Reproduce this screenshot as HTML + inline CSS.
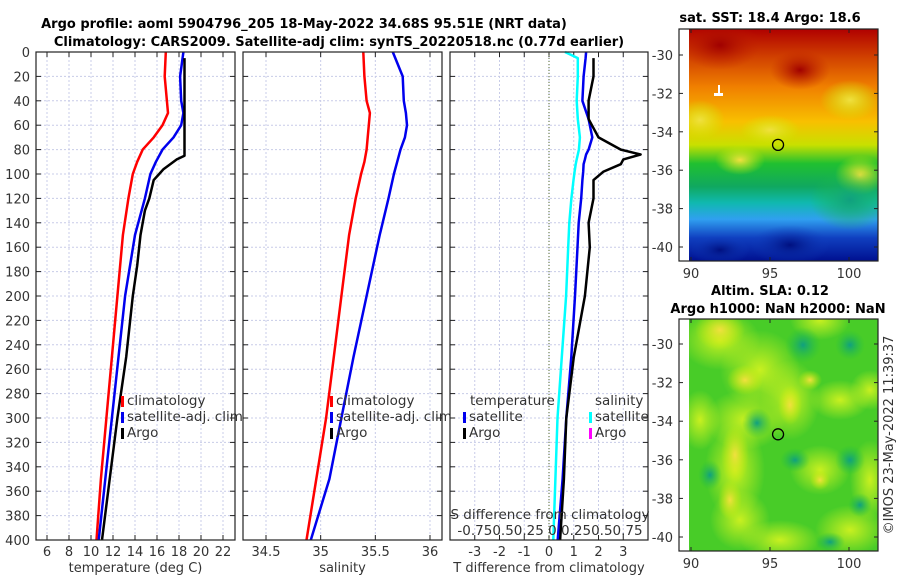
<!DOCTYPE html>
<html><head><meta charset="utf-8">
<style>
body{margin:0;background:#fff;}
svg{display:block;font-family:"DejaVu Sans","Liberation Sans",sans-serif;}
.tk{font-size:13px;fill:#333;}
.tt{font-size:13px;font-weight:bold;fill:#000;}
</style></head>
<body>
<svg id="c" width="900" height="580" viewBox="0 0 900 580" xmlns="http://www.w3.org/2000/svg">
<defs>
<linearGradient id="sstg" x1="0" y1="0" x2="0" y2="1">
<stop offset="0" stop-color="#b00000"/><stop offset="0.12" stop-color="#d04000"/>
<stop offset="0.25" stop-color="#f08000"/><stop offset="0.4" stop-color="#f8c000"/>
<stop offset="0.5" stop-color="#c8e000"/><stop offset="0.58" stop-color="#20c030"/>
<stop offset="0.68" stop-color="#10a860"/><stop offset="0.75" stop-color="#10b8b0"/>
<stop offset="0.82" stop-color="#30a0f0"/><stop offset="0.9" stop-color="#1040c0"/>
<stop offset="1" stop-color="#001090"/></linearGradient>
<radialGradient id="yb"><stop offset="0" stop-color="#f0e040"/><stop offset="1" stop-color="#c8f000" stop-opacity="0"/></radialGradient>
<radialGradient id="lb"><stop offset="0" stop-color="#c8f020"/><stop offset="1" stop-color="#c8f020" stop-opacity="0"/></radialGradient>
<radialGradient id="gb"><stop offset="0" stop-color="#10a080"/><stop offset="1" stop-color="#20c040" stop-opacity="0"/></radialGradient>
<radialGradient id="rb"><stop offset="0" stop-color="#a00000"/><stop offset="1" stop-color="#c02000" stop-opacity="0"/></radialGradient>
<radialGradient id="bb"><stop offset="0" stop-color="#001080"/><stop offset="1" stop-color="#1040c0" stop-opacity="0"/></radialGradient>
<clipPath id="m1c"><rect x="689" y="29" width="189" height="232"/></clipPath>
<clipPath id="m2c"><rect x="689" y="319" width="189" height="232"/></clipPath>
</defs>
<g id="root"></g>
<text class="tt" x="304" y="28" text-anchor="middle">Argo profile: aoml 5904796_205 18-May-2022 34.68S 95.51E (NRT data)</text>
<text class="tt" x="339" y="46" text-anchor="middle">Climatology: CARS2009. Satellite-adj clim: synTS_20220518.nc (0.77d earlier)</text>
<text class="tt" x="770" y="22" text-anchor="middle">sat. SST: 18.4 Argo: 18.6</text>
<text class="tt" x="770" y="295" text-anchor="middle">Altim. SLA: 0.12</text>
<text class="tt" x="778" y="313" text-anchor="middle">Argo h1000: NaN h2000: NaN</text>
<text class="tk" transform="translate(893,435) rotate(-90)" text-anchor="middle">©IMOS 23-May-2022 11:39:37</text>
</svg>
<script>
// ---- data ----
const depthRed=[0,20,40,50,60,70,80,90,100,120,150,200,250,300,350,400];
const tClim=[16.8,16.7,16.9,17.0,16.5,15.7,14.7,14.2,13.8,13.4,12.9,12.4,11.9,11.4,10.9,10.5];
const tSat=[18.4,18.1,18.2,18.4,18.2,17.5,16.5,15.9,15.4,14.9,14.0,13.1,12.5,11.9,11.3,10.7];
const depthArgo=[5,20,40,60,85,88,92,96,100,105,120,130,150,175,200,250,300,350,400];
const tArgo=[18.5,18.5,18.5,18.5,18.5,17.8,17.2,16.6,16.2,15.7,15.3,14.9,14.5,14.2,13.8,13.2,12.4,11.7,11.0];
const sClim=[35.39,35.40,35.42,35.45,35.44,35.43,35.42,35.40,35.37,35.32,35.26,35.19,35.12,35.05,34.96,34.87];
const sSat=[35.66,35.75,35.76,35.78,35.79,35.77,35.73,35.70,35.67,35.62,35.54,35.42,35.30,35.19,35.08,34.91];
const dDepth=[0,5,20,40,55,70,80,84,88,92,98,105,120,140,160,200,250,300,350,400];
const dTsat=[1.5,1.48,1.4,1.35,1.6,1.75,1.6,1.5,1.45,1.4,1.38,1.35,1.3,1.2,1.15,1.05,0.9,0.7,0.55,0.35];
const dTargo=[null,1.8,1.8,1.6,1.6,2.0,2.9,3.7,3.0,2.9,2.2,1.8,1.8,1.6,1.65,1.45,1.0,0.7,0.6,0.45];
const dSsat=[0.15,0.27,0.27,0.26,0.27,0.29,0.28,0.27,0.26,0.25,0.24,0.23,0.21,0.19,0.18,0.16,0.12,0.08,0.06,0.04];
const depthTicks=[0,20,40,60,80,100,120,140,160,180,200,220,240,260,280,300,320,340,360,380,400];
const tTicks=[6,8,10,12,14,16,18,20,22];
const sTicks=[34.5,35,35.5,36];
const dTicks=[-3,-2,-1,0,1,2,3];
const latTicks=[-30,-32,-34,-36,-38,-40];
const lonTicks=[90,95,100];
// ---- helpers ----
const NS='http://www.w3.org/2000/svg';
const root=document.getElementById('root');
function mk(tag,attrs,parent){const e=document.createElementNS(NS,tag);for(const k in attrs)e.setAttribute(k,attrs[k]);(parent||root).appendChild(e);return e;}
const Y0=52,Y1=540;
const yD=d=>Y0+d/400*(Y1-Y0);
function lin(d0,d1,p0,p1){return v=>p0+(v-d0)/(d1-d0)*(p1-p0);}
function panel(name,x0,x1,xs,ticks,fmt,title){
  const g=mk('g',{});
  
  
  mk('rect',{x:x0,y:Y0,width:x1-x0,height:Y1-Y0,fill:'#fff'},g);
  depthTicks.forEach(d=>{mk('line',{x1:x0,x2:x1,y1:yD(d),y2:yD(d),stroke:'#c8cce8','stroke-width':1,'stroke-dasharray':'2,2'},g);});
  ticks.forEach(t=>{mk('line',{x1:xs(t),x2:xs(t),y1:Y0,y2:Y1,stroke:'#c8cce8','stroke-width':1,'stroke-dasharray':'2,2'},g);
    mk('line',{x1:xs(t),x2:xs(t),y1:Y1,y2:Y1-5,stroke:'#222'},g);mk('line',{x1:xs(t),x2:xs(t),y1:Y0,y2:Y0+5,stroke:'#222'},g);
    const tx=mk('text',{x:xs(t),y:556,'text-anchor':'middle',class:'tk'},g);tx.textContent=fmt(t);});
  depthTicks.forEach(d=>{mk('line',{x1:x0,x2:x0+5,y1:yD(d),y2:yD(d),stroke:'#222'},g);mk('line',{x1:x1,x2:x1-5,y1:yD(d),y2:yD(d),stroke:'#222'},g);});
  const tt=mk('text',{x:(x0+x1)/2,y:572,'text-anchor':'middle',class:'tk'},g);tt.textContent=title;
  return g;
}
function frame(x0,x1){mk('rect',{x:x0,y:Y0,width:x1-x0,height:Y1-Y0,fill:'none',stroke:'#222','stroke-width':1.2});}
function line(g,depths,vals,xs,color,w){
  let d='';let pen=false;
  vals.forEach((v,i)=>{if(v===null){pen=false;return;}d+=(pen?'L':'M')+xs(v).toFixed(1)+','+yD(depths[i]).toFixed(1);pen=true;});
  return mk('path',{d:d,fill:'none',stroke:color,'stroke-width':w,'stroke-linejoin':'round'},g);
}
function legend(g,x,y,items){
  items.forEach((it,i)=>{mk('rect',{x:x,y:y+i*16-9,width:3,height:11,fill:it[0]},g);
    const t=mk('text',{x:x+6,y:y+i*16,class:'tk',style:'font-size:13.5px'},g);t.textContent=it[1];});
}
// depth labels
depthTicks.forEach(d=>{const t=mk('text',{x:30,y:yD(d)+5,'text-anchor':'end',class:'tk'});
  t.textContent=d;});
// panel 1 temperature
const xT=lin(6,22,47,223);
const p1=panel('temperature-panel',36,235,xT,tTicks,String,'temperature (deg C)');
const l1=line(p1,depthRed,tClim,xT,'#ff0000',2.5);
const l2=line(p1,depthRed,tSat,xT,'#0000ee',2.5);
const l3=line(p1,depthArgo,tArgo,xT,'#000',2.5);
legend(p1,121,405,[['#ff0000','climatology'],['#0000ee','satellite-adj. clim'],['#000','Argo']]);
frame(36,235);
// panel 2 salinity
const xS=lin(34.5,36,266,430);
const p2=panel('salinity-panel',243,442,xS,sTicks,String,'salinity');
const l4=line(p2,depthRed,sClim,xS,'#ff0000',2.5);
const l5=line(p2,depthRed,sSat,xS,'#0000ee',2.5);
legend(p2,330,405,[['#ff0000','climatology'],['#0000ee','satellite-adj. clim'],['#000','Argo']]);
frame(243,442);
// panel 3 differences
const xDT=lin(-4,4,450,648);
const xDS=lin(0,0.75,549,629);
const p3=panel('difference-panel',450,648,xDT,dTicks,String,'T difference from climatology');
mk('line',{x1:xDT(0),x2:xDT(0),y1:Y0,y2:Y1,stroke:'#556b2f','stroke-width':1,'stroke-dasharray':'1,2'},p3);
const l6=line(p3,dDepth,dSsat,xDS,'#00ffff',2.5);
const l7=line(p3,dDepth,dTsat,xDT,'#0000ee',2.5);
const l8=line(p3,dDepth,dTargo,xDT,'#000',2.5);
let tx=mk('text',{x:470,y:405,class:'tk',style:'font-size:13.5px'},p3);tx.textContent='temperature';
tx=mk('text',{x:595,y:405,class:'tk',style:'font-size:13.5px'},p3);tx.textContent='salinity';
legend(p3,463,421,[['#0000ee','satellite'],['#000','Argo']]);
legend(p3,589,421,[['#00ffff','satellite'],['#ff00ff','Argo']]);
tx=mk('text',{x:550,y:519,'text-anchor':'middle',class:'tk',style:'font-size:13.5px'},p3);tx.textContent='S difference from climatology';
tx=mk('text',{x:550,y:535,'text-anchor':'middle',class:'tk',style:'font-size:13.5px'},p3);tx.textContent='-0.750.50.25 0 0.250.50.75';
frame(450,648);
// maps
function mapAxes(name,top,bot,latY){
  const g=mk('g',{});
  const lonX=lin(90,100,691,849);
  latTicks.forEach(l=>{const y=latY(l);mk('line',{x1:679,x2:683,y1:y,y2:y,stroke:'#222'},g);mk('line',{x1:878,x2:874,y1:y,y2:y,stroke:'#222'},g);
    const t=mk('text',{x:673,y:y+5,'text-anchor':'end',class:'tk'},g);t.textContent=l;});
  lonTicks.forEach(l=>{const x=lonX(l);mk('line',{x1:x,x2:x,y1:bot,y2:bot-4,stroke:'#222'},g);mk('line',{x1:x,x2:x,y1:top,y2:top+4,stroke:'#222'},g);
    const t=mk('text',{x:x,y:bot+17,'text-anchor':'middle',class:'tk'},g);t.textContent=l;});
  mk('rect',{x:679,y:top,width:199,height:bot-top,fill:'none',stroke:'#222','stroke-width':1.2},g);
  const ax=lonX(95.51),ay=latY(-34.68);
  mk('ellipse',{cx:ax,cy:ay,rx:5.5,ry:5.5,fill:'none',stroke:'#000','stroke-width':1.3},g);
  return g;
}
// SST map
const m1=mk('g',{'clip-path':'url(#m1c)'});

mk('rect',{x:689,y:29,width:189,height:232,fill:'url(#sstg)'},m1);
[[720,45,40,25,'rb'],[800,70,30,20,'rb'],[700,120,25,20,'yb'],[770,130,30,15,'yb'],[850,100,30,20,'yb'],[740,160,25,15,'yb'],[860,175,25,20,'yb'],[850,200,40,30,'gb'],[790,245,40,20,'bb'],[720,250,30,15,'bb']].forEach(b=>mk('ellipse',{cx:b[0],cy:b[1],rx:b[2],ry:b[3],fill:'url(#'+b[4]+')'},m1));
mk('rect',{x:714,y:93,width:9,height:3,fill:'#fff'},m1);mk('rect',{x:718,y:85,width:2,height:9,fill:'#fff'},m1);
mapAxes('sst-map-axes',29,261,lin(-30,-40,55,247));
// SLA map
const m2=mk('g',{'clip-path':'url(#m2c)'});

mk('rect',{x:689,y:319,width:189,height:232,fill:'#48cc28'},m2);
[[720,340,40,30,'lb'],[760,370,40,40,'lb'],[745,420,40,30,'lb'],[790,400,30,40,'lb'],[735,470,30,50,'lb'],[740,520,30,30,'lb'],[820,320,30,20,'lb'],[840,400,30,20,'lb'],[870,390,20,20,'lb'],[820,470,30,25,'lb'],[850,530,35,25,'lb'],[780,540,40,20,'lb'],[870,480,20,40,'lb'],[700,420,20,30,'lb']].forEach(b=>mk('ellipse',{cx:b[0],cy:b[1],rx:b[2],ry:b[3],fill:'url(#'+b[4]+')'},m2));
[[720,330,25,20,'yb'],[745,380,18,15,'yb'],[790,405,12,20,'yb'],[735,455,14,30,'yb'],[730,500,12,20,'yb'],[810,380,12,10,'yb'],[820,480,10,10,'yb']].forEach(b=>mk('ellipse',{cx:b[0],cy:b[1],rx:b[2],ry:b[3],fill:'url(#'+b[4]+')'},m2));
[[757,423,15,15,'gb'],[803,345,18,18,'gb'],[850,345,15,15,'gb'],[850,460,15,15,'gb'],[710,475,12,15,'gb'],[795,460,15,12,'gb'],[860,505,12,12,'gb'],[830,542,15,10,'gb']].forEach(b=>mk('ellipse',{cx:b[0],cy:b[1],rx:b[2],ry:b[3],fill:'url(#'+b[4]+')'},m2));
mapAxes('sla-map-axes',319,551,lin(-30,-40,344,537));
</script>
</body></html>
